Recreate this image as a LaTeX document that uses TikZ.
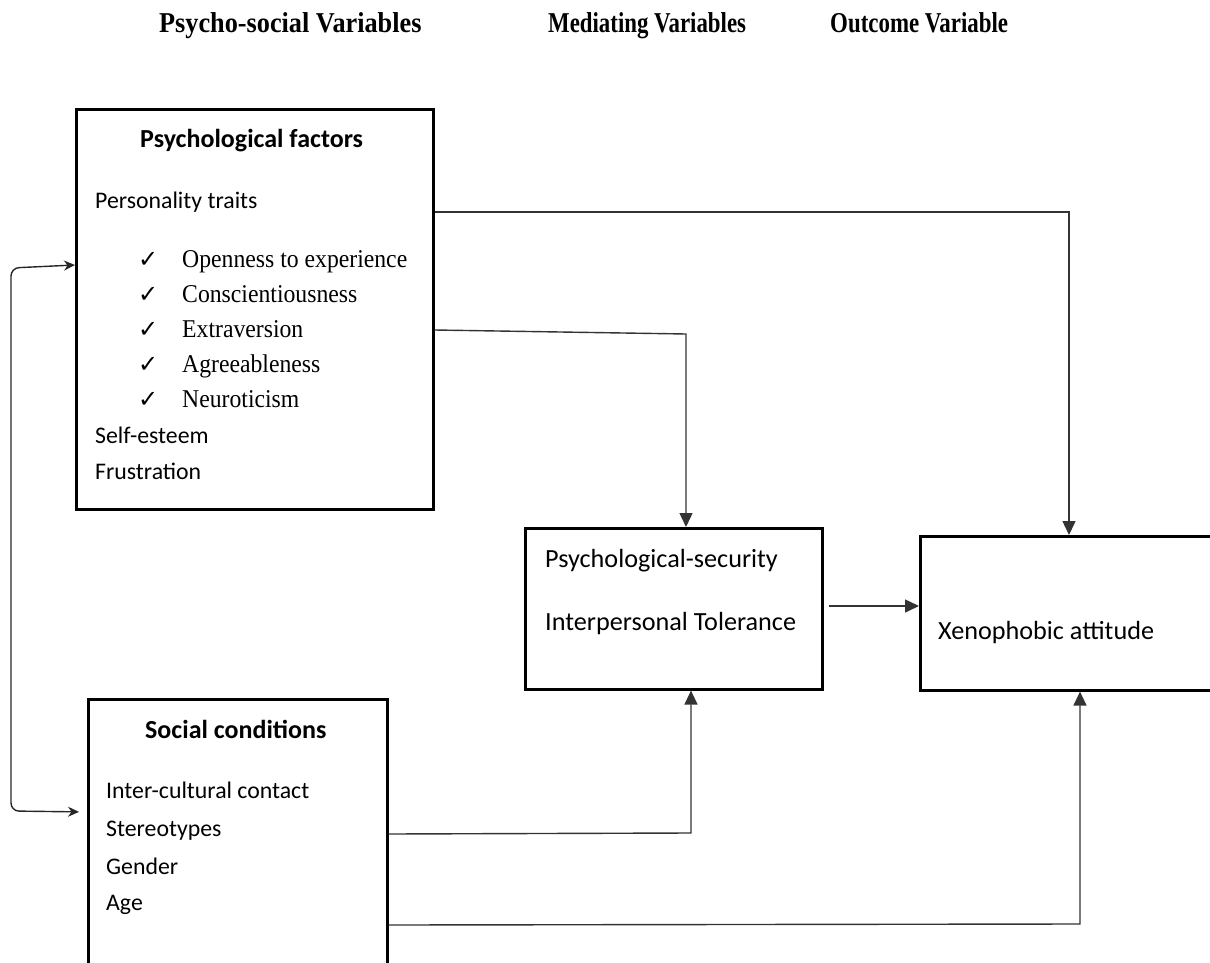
\documentclass[tikz,border=0pt]{standalone}
\usepackage{graphicx}
\usepackage{fontspec}
\setmainfont{Liberation Serif}
\newfontfamily\calfont{Carlito}
\newfontfamily\symfont{DejaVu Sans}
\usetikzlibrary{arrows.meta}
\begin{document}
\begin{tikzpicture}[x=1pt,y=-1pt,
  box/.style={draw=black,line width=2.6pt,rectangle,anchor=north west,inner sep=0pt},
  conn/.style={draw=black!80,line width=1.4pt,-{Triangle[length=14pt,width=13pt]}},
  lnk/.style={draw=black!85,line width=1.4pt,rounded corners=8pt,{Stealth[length=11pt,width=10pt]}-{Stealth[length=11pt,width=10pt]}},
  hd/.style={anchor=base west,inner sep=0pt,font=\calfont\fontsize{26}{30}\selectfont\bfseries},
  itm/.style={anchor=base west,inner sep=0pt,font=\calfont\fontsize{23.8}{28}\selectfont},
  tms/.style={anchor=base west,inner sep=0pt,font=\fontsize{23.7}{28}\selectfont},
  ck/.style={anchor=base west,inner sep=0pt,font=\symfont\fontsize{24}{28}\selectfont},
  lrg/.style={anchor=base west,inner sep=0pt,font=\calfont\fontsize{26.2}{30}\selectfont},
  toph/.style={anchor=base west,inner sep=0pt,font=\fontsize{25}{30}\selectfont\bfseries}]
\useasboundingbox (0,0) rectangle (1210,963);

% column headers
\node[toph] (h1) at (159,33) {\scalebox{1.05}[1.15]{Psycho-social Variables}};
\node[toph] (h2) at (548,33) {\scalebox{0.914}[1.15]{Mediating Variables}};
\node[toph] (h3) at (830,33) {\scalebox{0.916}[1.15]{Outcome Variable}};

% boxes
\node[box,minimum width=357pt,minimum height=400pt] (psy) at (75,108) {};
\node[box,minimum width=299pt,minimum height=300pt] (soc) at (87,698) {};
\node[box,minimum width=297pt,minimum height=161pt] (med) at (524,527) {};
\node[box,minimum width=303pt,minimum height=154pt] (xen) at (919,535) {};

% box 1 text
\node[hd] (t1) at (140,148) {Psychological factors};
\node[itm] (t2) at (95,208) {Personality traits};
\node[ck] (c1) at (138,267) {✓};
\node[tms] (o1) at (182,267) {\scalebox{1}[1.08]{Openness to experience}};
\node[ck] (c2) at (138,302) {✓};
\node[tms] (o2) at (182,302) {\scalebox{1}[1.08]{Conscientiousness}};
\node[ck] (c3) at (138,337) {✓};
\node[tms] (o3) at (182,337) {\scalebox{1}[1.08]{Extraversion}};
\node[ck] (c4) at (138,372) {✓};
\node[tms] (o4) at (182,372) {\scalebox{1}[1.08]{Agreeableness}};
\node[ck] (c5) at (138,407) {✓};
\node[tms] (o5) at (182,407) {\scalebox{1}[1.08]{Neuroticism}};
\node[itm] (t3) at (95,443) {Self-esteem};
\node[itm] (t4) at (95,479) {Frustration};

% box 2 text
\node[hd] (s1) at (145,738) {Social conditions};
\node[itm] (s2) at (106,798) {Inter-cultural contact};
\node[itm] (s3) at (106,836) {Stereotypes};
\node[itm] (s4) at (106,874) {Gender};
\node[itm] (s5) at (106,910) {Age};

% box 3 and 4 text
\node[lrg] (m1) at (545,567) {Psychological-security};
\node[lrg] (m2) at (545,630) {Interpersonal Tolerance};
\node[lrg] (x1) at (938,639) {Xenophobic attitude};

% helper coordinates
\coordinate (y212) at (0,212);
\coordinate (y330) at (0,330);
\coordinate (y606) at (0,606);
\coordinate (y834) at (0,834);
\coordinate (y925) at (0,925);
\coordinate (y265) at (0,265);
\coordinate (y812) at (0,812);
\coordinate (k1) at (686,334);
\coordinate (k2) at (1069,212);
\coordinate (k3) at (691,833);
\coordinate (k4) at (1080,924);
\coordinate (kl1) at (11,268);
\coordinate (kl2) at (11,811);

% connectors
\draw[conn] (psy.east |- y212) -- (k2) -- (k2 |- xen.north);
\draw[conn] (psy.east |- y330) -- (k1) -- (k1 |- med.north);
\draw[conn,shorten <=5pt] (med.east |- y606) -- (xen.west |- y606);
\draw[conn] (soc.east |- y834) -- (k3) -- (k3 |- med.south);
\draw[conn] (soc.east |- y925) -- (k4) -- (k4 |- xen.south);
\draw[lnk,shorten <=8pt] (soc.west |- y812) -- (kl2) -- (kl1) -- (psy.west |- y265);
\end{tikzpicture}
\end{document}
